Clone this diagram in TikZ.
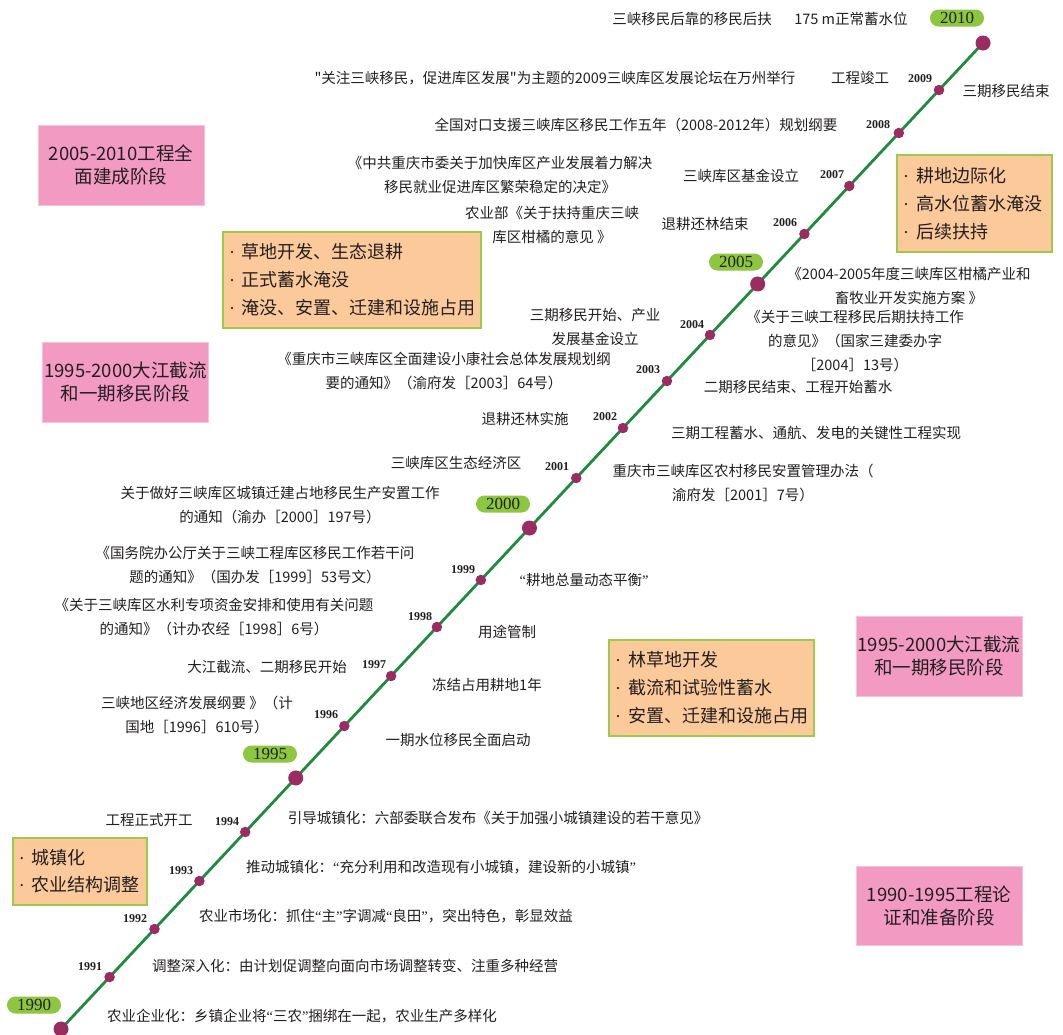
\documentclass[tikz,border=0pt]{standalone}
\usepackage{fontspec}
\setmainfont{Noto Sans CJK SC}
\newfontfamily\yr{Liberation Serif}
\usetikzlibrary{calc}
\definecolor{pinkc}{HTML}{F39AC2}
\definecolor{pinkb}{HTML}{F8C3DA}
\definecolor{orangec}{HTML}{FCC99B}
\definecolor{greenb}{HTML}{9BCB4B}
\definecolor{pillc}{HTML}{8DC63F}
\definecolor{linec}{HTML}{1F8B3C}
\definecolor{dotc}{HTML}{9B2C62}
\definecolor{txtc}{HTML}{231F20}
\newcommand{\obul}{{\yr ·}\hspace{7pt}}
\newcommand{\oline}[1]{\mbox{\obul #1}}
\newcommand{\sq}{\XeTeXglyph\XeTeXcharglyph"22\relax}
\newcommand{\oq}{{\yr “}}
\newcommand{\cq}{{\yr ”}}
\begin{document}
\begin{tikzpicture}[x=1pt,y=-1pt,
 tx/.style={font=\fontsize{14.5}{24}\selectfont, align=center, inner sep=0pt, text=txtc},
 yrs/.style={font=\yr\bfseries\fontsize{12}{12}\selectfont, inner sep=0pt, text=txtc},
 pill/.style={fill=pillc, rounded corners=8.5pt, minimum width=54pt, minimum height=17pt, inner sep=0pt, font=\yr\fontsize{17}{17}\selectfont, text=txtc},
 sdot/.style={circle, fill=dotc, minimum size=10.5pt, inner sep=0pt},
 bdot/.style={circle, fill=dotc, minimum size=15pt, inner sep=0pt},
 pbox/.style={fill=pinkc, draw=pinkb, line width=0.8pt, minimum width=166pt, minimum height=80pt, align=center, inner sep=0pt, text=txtc, font=\fontsize{18.5}{23}\selectfont},
 obox/.style={fill=orangec, draw=greenb, line width=1.6pt, align=left, inner xsep=6pt, inner ysep=0pt, text=txtc, font=\fontsize{18}{28}\selectfont},
 tl/.style={draw=linec, line width=2.8pt}
]
\useasboundingbox (0,0) rectangle (1063,1034);
\fill[white] (0,0) rectangle (1063,1034);
% timeline
\coordinate (pa) at (61,1029);
\coordinate (pb) at (983,43);
\draw[tl] (pa) -- (pb);
\node[bdot] (d1990) at (pa) {};
\node[sdot] (d1991) at ($(pa)!0.0527!(pb)$) {};
\node[sdot] (d1992) at ($(pa)!0.1014!(pb)$) {};
\node[sdot] (d1993) at ($(pa)!0.1501!(pb)$) {};
\node[sdot] (d1994) at ($(pa)!0.1998!(pb)$) {};
\node[bdot] (d1995) at ($(pa)!0.2546!(pb)$) {};
\node[sdot] (d1996) at ($(pa)!0.3073!(pb)$) {};
\node[sdot] (d1997) at ($(pa)!0.3580!(pb)$) {};
\node[sdot] (d1998) at ($(pa)!0.4077!(pb)$) {};
\node[sdot] (d1999) at ($(pa)!0.4554!(pb)$) {};
\node[bdot] (d2000) at ($(pa)!0.5081!(pb)$) {};
\node[sdot] (d2001) at ($(pa)!0.5588!(pb)$) {};
\node[sdot] (d2002) at ($(pa)!0.6095!(pb)$) {};
\node[sdot] (d2003) at ($(pa)!0.6572!(pb)$) {};
\node[sdot] (d2004) at ($(pa)!0.7039!(pb)$) {};
\node[bdot] (d2005) at ($(pa)!0.7556!(pb)$) {};
\node[sdot] (d2006) at ($(pa)!0.8063!(pb)$) {};
\node[sdot] (d2007) at ($(pa)!0.8550!(pb)$) {};
\node[sdot] (d2008) at ($(pa)!0.9087!(pb)$) {};
\node[sdot] (d2009) at ($(pa)!0.9523!(pb)$) {};
\node[bdot] (d2010) at (pb) {};
% pills
\node[pill] (p2010) at (957,18) {2010};
\node[pill] (p2005) at (736,262) {2005};
\node[pill] (p2000) at (503,504) {2000};
\node[pill] (p1995) at (270,754) {1995};
\node[pill] (p1990) at (34,1005) {1990};
% small years
\node[yrs] (y2009) at (920,79) {2009};
\node[yrs] (y2008) at (878,125) {2008};
\node[yrs] (y2007) at (832,175) {2007};
\node[yrs] (y2006) at (785,223) {2006};
\node[yrs] (y2004) at (692,325) {2004};
\node[yrs] (y2003) at (648,370) {2003};
\node[yrs] (y2002) at (605,417) {2002};
\node[yrs] (y2001) at (557,467) {2001};
\node[yrs] (y1999) at (463,570) {1999};
\node[yrs] (y1998) at (420,617) {1998};
\node[yrs] (y1997) at (374,665) {1997};
\node[yrs] (y1996) at (326,715) {1996};
\node[yrs] (y1994) at (227,822) {1994};
\node[yrs] (y1993) at (181,871) {1993};
\node[yrs] (y1992) at (135,919) {1992};
\node[yrs] (y1991) at (90,967) {1991};
% event texts
\node[tx] (e1) at (692,19) {三峡移民后靠的移民后扶};
\node[tx] (e2) at (851,19) {175 m正常蓄水位};
\node[tx] (e3) at (555,78) {\sq 关注三峡移民，促进库区发展\sq 为主题的2009三峡库区发展论坛在万州举行};
\node[tx] (e4) at (860,78) {工程竣工};
\node[tx] (e5) at (1006,91) {三期移民结束};
\node[tx] (e6) at (636,125) {全国对口支援三峡库区移民工作五年（2008-2012年）规划纲要};
\node[tx] (e7) at (500,175) {《中共重庆市委关于加快库区产业发展着力解决\\移民就业促进库区繁荣稳定的决定》};
\node[tx] (e8) at (741,176) {三峡库区基金设立};
\node[tx] (e9) at (552,224.5) {农业部《关于扶持重庆三峡\\库区柑橘的意见 》};
\node[tx] (e10) at (705,224) {退耕还林结束};
\node[tx] (e11) at (909,285.5) {《2004-2005年度三峡库区柑橘产业和\\畜牧业开发实施方案 》};
\node[tx] (e12) at (595,327) {三期移民开始、产业\\发展基金设立};
\node[tx] (e13) at (855,341.5) {《关于三峡工程移民后期扶持工作\\的意见》（国家三建委办字\\［2004］13号）};
\node[tx] (e14) at (444,371.5) {《重庆市三峡库区全面建设小康社会总体发展规划纲\\要的通知》（渝府发［2003］64号）};
\node[tx] (e15) at (798,387) {二期移民结束、工程开始蓄水};
\node[tx] (e16) at (525,419) {退耕还林实施};
\node[tx] (e17) at (816,433) {三期工程蓄水、通航、发电的关键性工程实现};
\node[tx] (e18) at (456,463) {三峡库区生态经济区};
\node[tx] (e19) at (743,482.5) {重庆市三峡库区农村移民安置管理办法（\\渝府发［2001］7号）};
\node[tx] (e20) at (280,505) {关于做好三峡库区城镇迁建占地移民生产安置工作\\的通知（渝办［2000］197号）};
\node[tx] (e21) at (255,565) {《国务院办公厅关于三峡工程库区移民工作若干问\\题的通知》（国办发［1999］53号文）};
\node[tx] (e22) at (584,580) {\oq 耕地总量动态平衡\cq};
\node[tx] (e23) at (214,617.5) {《关于三峡库区水利专项资金安排和使用有关问题\\的通知》（计办农经［1998］6号）};
\node[tx] (e24) at (507,632) {用途管制};
\node[tx] (e25) at (267,667) {大江截流、二期移民开始};
\node[tx] (e26) at (487,685) {冻结占用耕地1年};
\node[tx] (e27) at (197,714.5) {三峡地区经济发展纲要 》（计\\国地［1996］610号）};
\node[tx] (e28) at (458,740) {一期水位移民全面启动};
\node[tx] (e29) at (149,820) {工程正式开工};
\node[tx] (e30) at (498,818) {引导城镇化：六部委联合发布《关于加强小城镇建设的若干意见》};
\node[tx] (e31) at (441,867) {推动城镇化：\oq 充分利用和改造现有小城镇，建设新的小城镇\cq};
\node[tx] (e32) at (386,916) {农业市场化：抓住\oq 主\cq 字调减\oq 良田\cq ，突出特色，彰显效益};
\node[tx] (e33) at (355,966) {调整深入化：由计划促调整向面向市场调整转变、注重多种经营};
\node[tx] (e34) at (302,1016) {农业企业化：乡镇企业将\oq 三农\cq 捆绑在一起，农业生产多样化};
% phase boxes
\node[pbox] (ph1) at (121,165) {2005-2010工程全\\面建成阶段};
\node[pbox] (ph2) at (125.5,382) {1995-2000大江截流\\和一期移民阶段};
\node[pbox] (ph3) at (939,656) {1995-2000大江截流\\和一期移民阶段};
\node[pbox, minimum height=79pt] (ph4) at (939,905.5) {1990-1995工程论\\证和准备阶段};
% orange boxes
\node[obox, text width=143pt, minimum height=97pt] (o1) at (974.5,203.5) {\oline{耕地边际化}\\\oline{高水位蓄水淹没}\\\oline{后续扶持}};
\node[obox, text width=246pt, minimum height=96pt] (o2) at (352,280) {\oline{草地开发、生态退耕}\\\oline{正式蓄水淹没}\\\oline{淹没、安置、迁建和设施占用}};
\node[obox, text width=193pt, minimum height=96pt] (o3) at (711.5,688) {\oline{林草地开发}\\\oline{截流和试验性蓄水}\\\oline{安置、迁建和设施占用}};
\node[obox, text width=122pt, minimum height=67pt, font=\fontsize{18}{27}\selectfont] (o4) at (80,871.5) {\oline{城镇化}\\\oline{农业结构调整}};
\end{tikzpicture}
\end{document}
